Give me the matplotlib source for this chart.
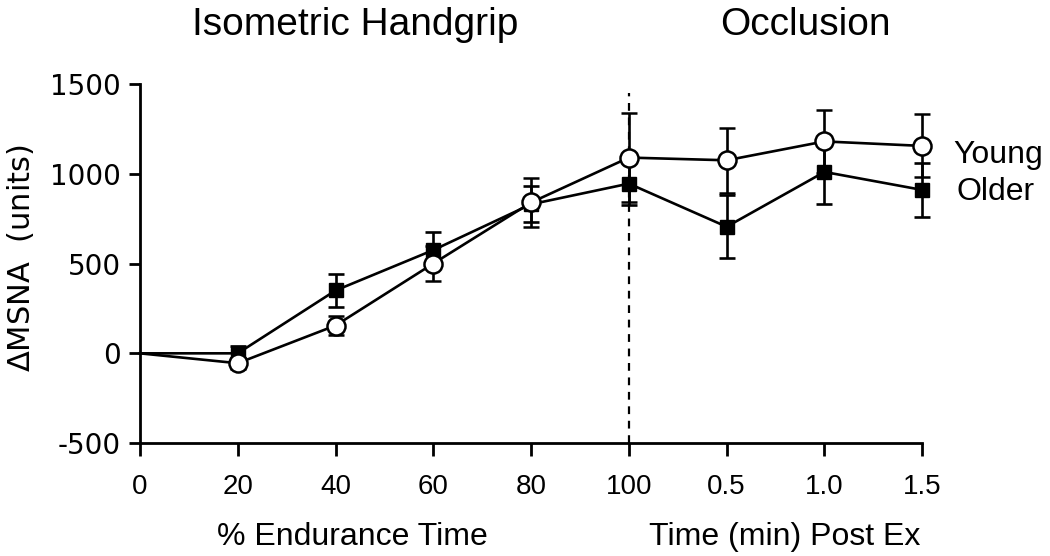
import matplotlib
matplotlib.use('Agg')
import matplotlib.pyplot as plt

# data
x_labels = ['0', '20', '40', '60', '80', '100', '0.5', '1.0', '1.5']
young = [0, -55, 155, 500, 840, 1090, 1075, 1180, 1155]
young_err = [0, 30, 55, 95, 135, 250, 180, 175, 175]
older = [0, 0, 350, 575, 830, 945, 705, 1010, 910]
older_err = [0, 40, 90, 100, 100, 120, 175, 180, 150]

x = list(range(len(x_labels)))

fig = plt.figure(figsize=(10.5, 5.56), dpi=100)
ax = fig.add_axes([0.1333, 0.203, 0.745, 0.646])

lw = 1.9


def unclip(container):
    for art in container.get_children():
        art.set_clip_on(False)


# older: filled squares
ax.plot(x, older, color='black', lw=lw, zorder=2, clip_on=False)
eb = ax.errorbar(x[1:], older[1:], yerr=older_err[1:], fmt='s', color='black',
                 ms=9.5, mfc='black', mec='black', ecolor='black', elinewidth=lw,
                 capsize=6, capthick=lw, zorder=3)
unclip(eb)
# young: open circles
ax.plot(x, young, color='black', lw=lw, zorder=4, clip_on=False)
eb = ax.errorbar(x[1:], young[1:], yerr=young_err[1:], fmt='o', color='black',
                 ms=13, mfc='white', mec='black', mew=1.8, ecolor='black',
                 elinewidth=lw, capsize=6, capthick=lw, zorder=5)
unclip(eb)

# end of exercise marker
ax.vlines(5, -500, 1450, colors='black', linestyles=(0, (3.5, 3)), lw=1.6, zorder=1)

ax.set_xlim(0, 8)
ax.set_ylim(-500, 1500)
ax.spines['top'].set_visible(False)
ax.spines['right'].set_visible(False)
for s in ('left', 'bottom'):
    ax.spines[s].set_linewidth(2)

ax.set_xticks(x)
ax.set_xticklabels(x_labels, family='Liberation Sans', fontsize=20)
ax.set_yticks([-500, 0, 500, 1000, 1500])
ax.set_yticklabels(['-500', '0', '500', '1000', '1500'], family='DejaVu Sans', fontsize=20)
ax.tick_params(axis='x', direction='out', length=9.5, width=2, pad=13)
ax.tick_params(axis='y', direction='out', length=8, width=2, pad=6)

fig.text(21 / 1050, 1 - 258 / 556, r'$\Delta$MSNA  (units)', family='DejaVu Sans',
         fontsize=22, rotation=90, ha='center', va='center')

fig.text(352 / 1050, 1 - 537 / 556, '% Endurance Time', family='Liberation Sans',
         fontsize=23, ha='center', va='center')
fig.text(785 / 1050, 1 - 537 / 556, 'Time (min) Post Ex', family='Liberation Sans',
         fontsize=23, ha='center', va='center')
fig.text(355 / 1050, 1 - 25 / 556, 'Isometric Handgrip', family='Liberation Sans',
         fontsize=28, ha='center', va='center')
fig.text(805 / 1050, 1 - 25 / 556, 'Occlusion', family='Liberation Sans', fontsize=28,
         ha='center', va='center')

fig.text(953 / 1050, 1 - 155 / 556, 'Young', family='Liberation Sans', fontsize=23,
         ha='left', va='center')
fig.text(956 / 1050, 1 - 192 / 556, 'Older', family='Liberation Sans', fontsize=23,
         ha='left', va='center')

fig.savefig('out.png', dpi=100)
